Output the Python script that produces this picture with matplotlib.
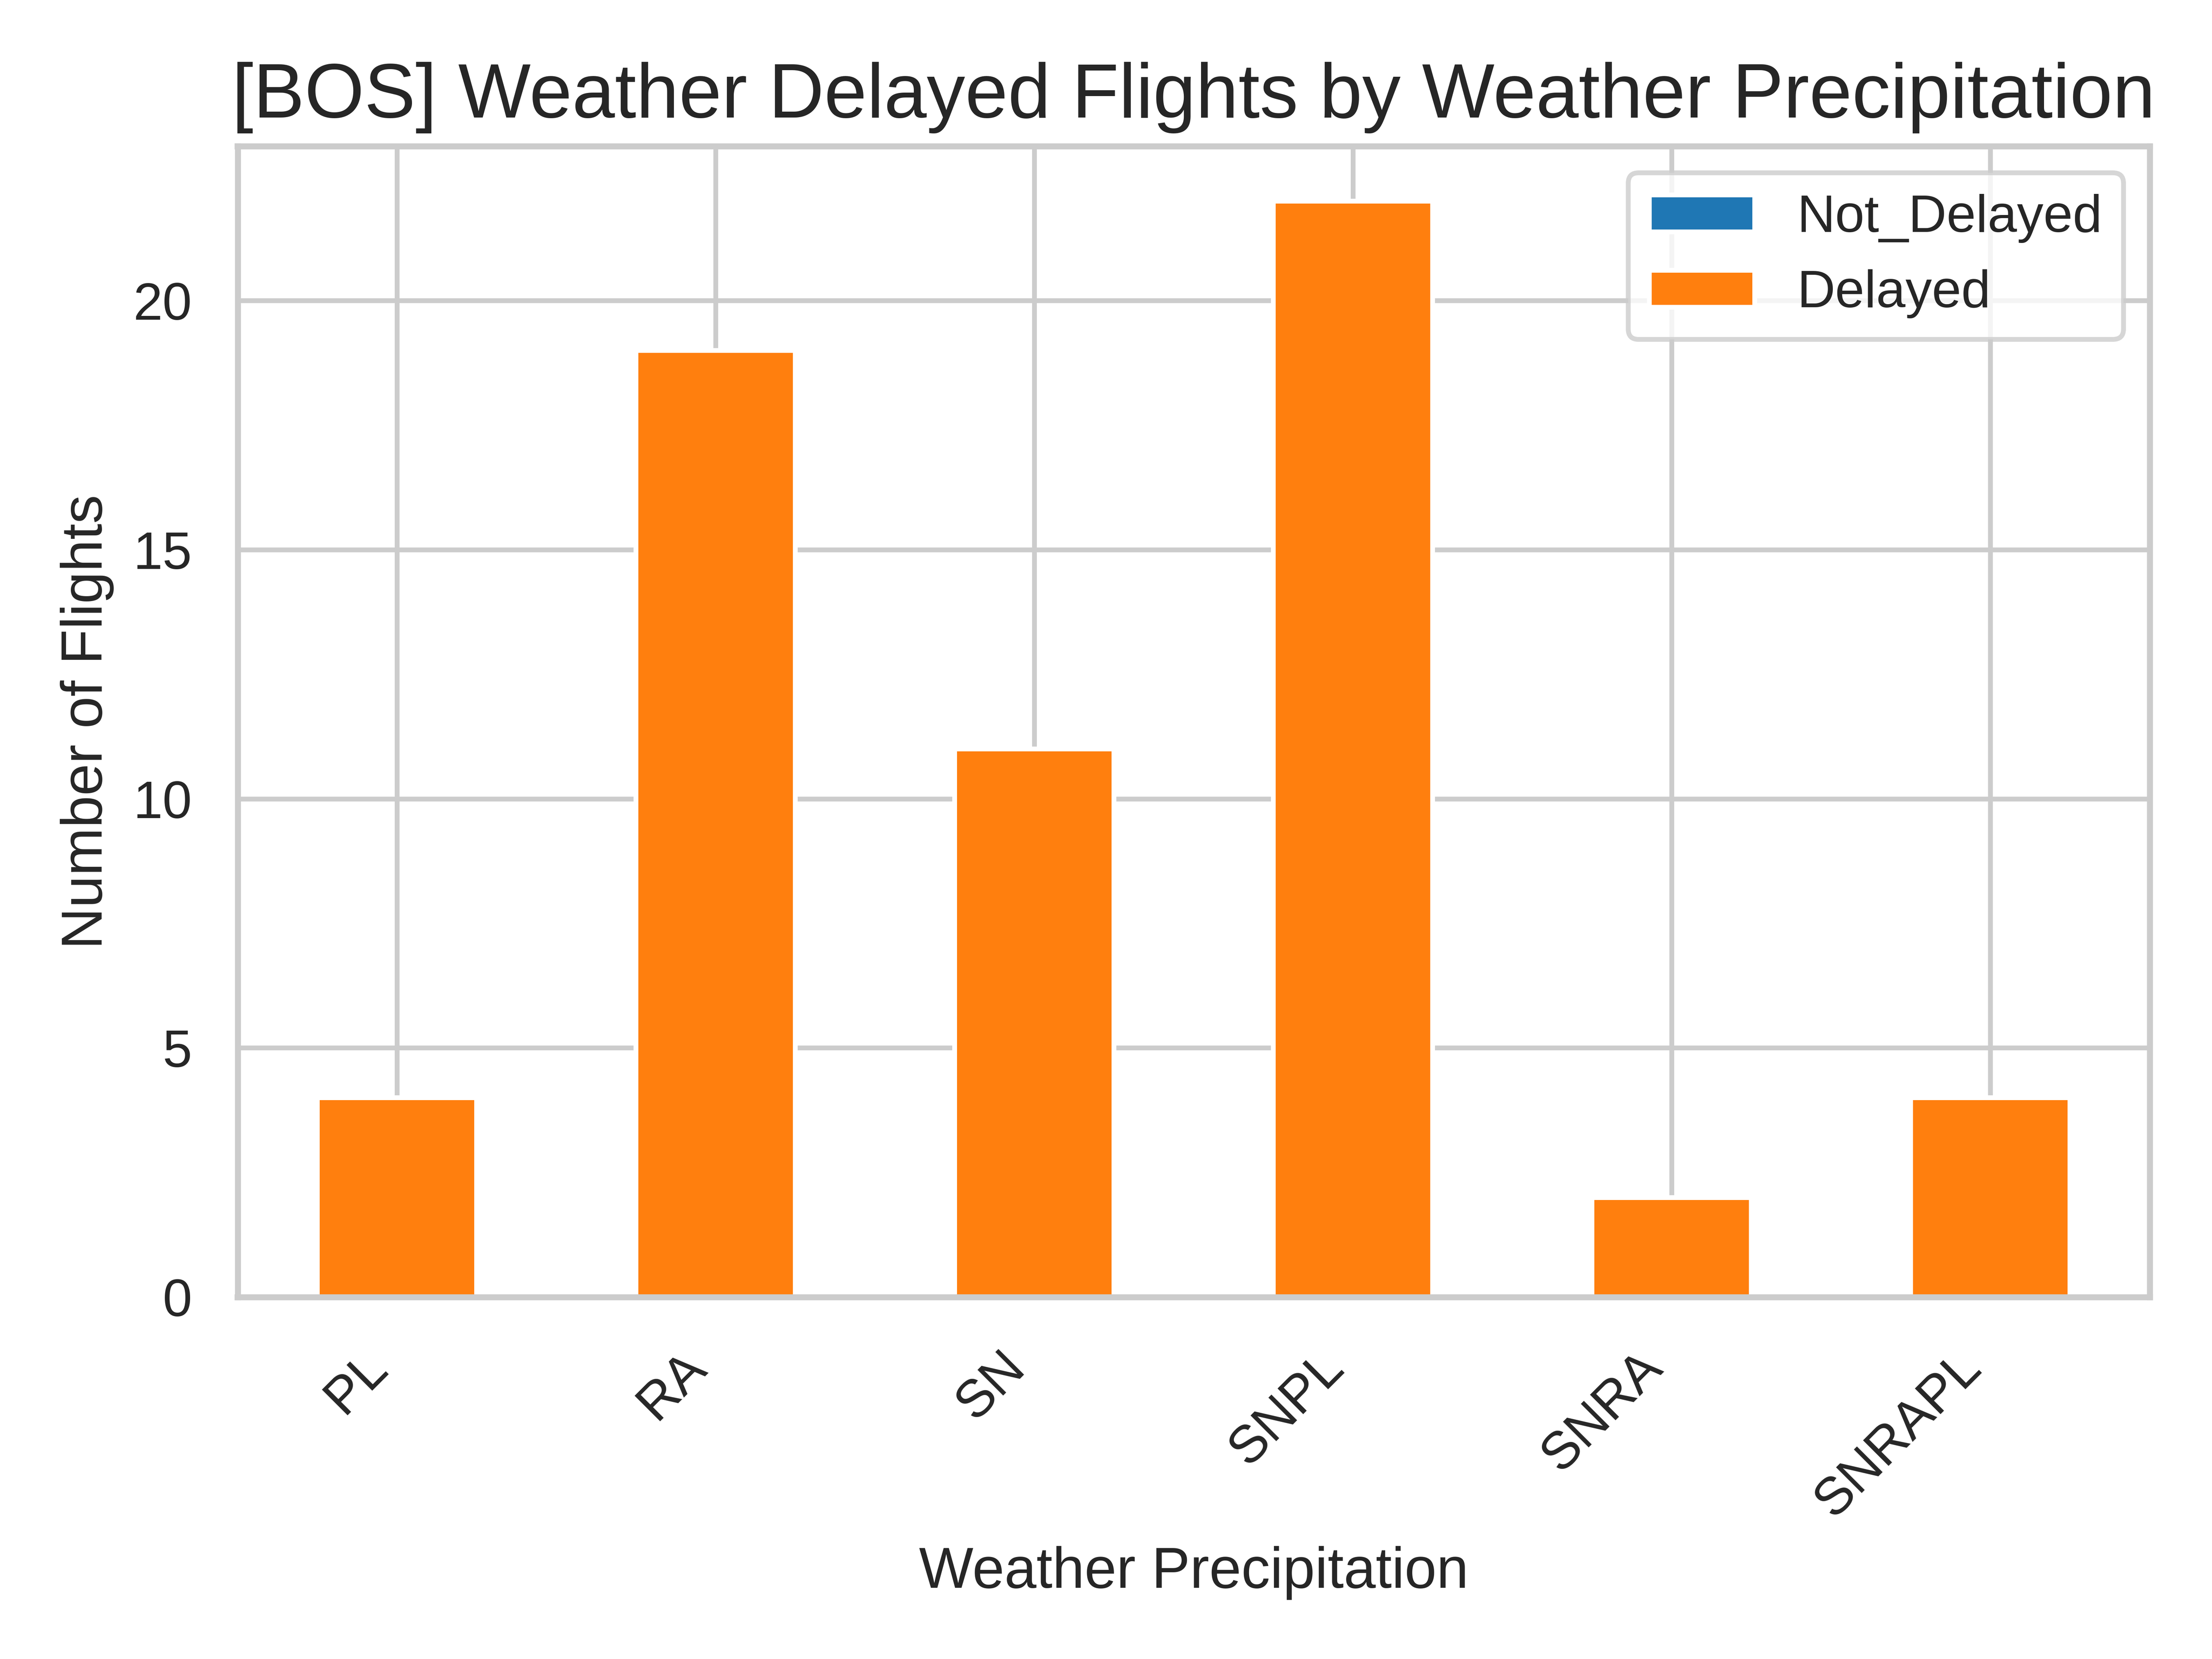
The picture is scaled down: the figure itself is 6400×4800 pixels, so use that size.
import pandas as pd
import seaborn as sns
import matplotlib
matplotlib.use("Agg")
import matplotlib.pyplot as plt

precipitacao = ["PL", "RA", "SN", "SNPL", "SNRA", "SNRAPL"]
nao_atrasados = [0, 0, 0, 0, 0, 0]
atrasados = [4, 19, 11, 22, 2, 4]

sns.set_theme(style="whitegrid")
plt.rcParams["font.family"] = ["Arial", "Liberation Sans", "DejaVu Sans"]

df = pd.DataFrame({"Not_Delayed": nao_atrasados, "Delayed": atrasados}, index=precipitacao)

fig, ax = plt.subplots(figsize=(6.4, 4.8))
df.plot(kind="bar", stacked=True, ax=ax, color=["#1f77b4", "#ff7f0e"])

ax.set_title("[BOS] Weather Delayed Flights by Weather Precipitation", fontsize=16)
ax.set_xlabel("Weather Precipitation")
ax.set_ylabel("Number of Flights")
plt.xticks(rotation=45, ha="right")

plt.tight_layout()
plt.savefig("out.png", dpi=1000)
